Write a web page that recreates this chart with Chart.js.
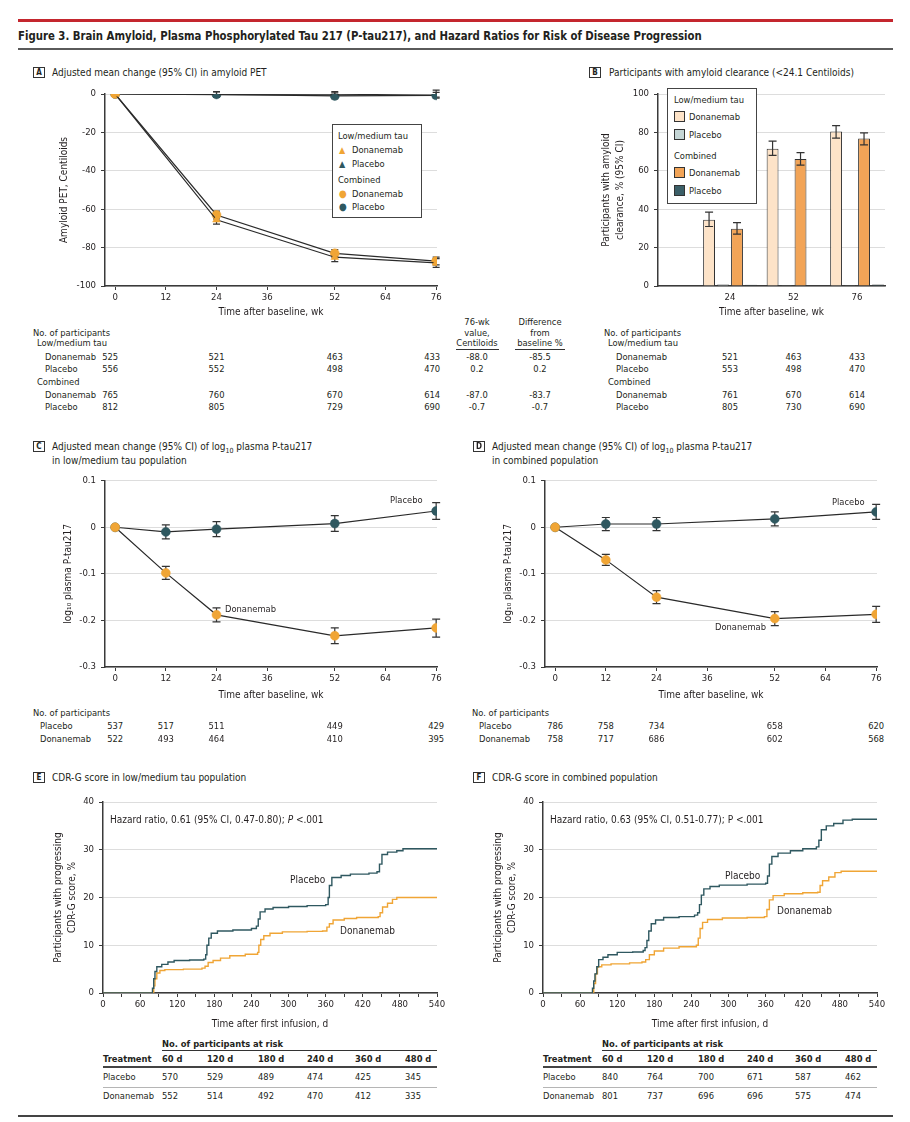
<!DOCTYPE html>
<html><head><meta charset="utf-8">
<script src="https://cdn.jsdelivr.net/npm/chart.js@4.4.1/dist/chart.umd.min.js"></script>
<style>
html,body{margin:0;padding:0;background:#fff}
body{width:910px;height:1122px;position:relative;overflow:hidden;font-family:"Liberation Sans Narrow","DejaVu Sans Condensed","Arial Narrow",sans-serif;color:#231f20}
.t{position:absolute;font-size:9.3px;line-height:12px;white-space:nowrap}
.b{font-weight:bold}
.pt{font-size:10px}
.ln{position:absolute}
canvas{position:absolute}
.lbox{position:absolute;width:12px;height:11px;border:1px solid #333;font-size:8px;line-height:10px;text-align:center;font-weight:bold;box-sizing:border-box}
.leg{position:absolute;border:1.5px solid #444;box-sizing:border-box;background:#fff}
.sw{position:absolute;width:11px;height:11px;border:1px solid #333;box-sizing:border-box}
</style></head><body>
<script>
// ---------------- DATA ----------------
// Panel A: adjusted mean change in amyloid PET (Centiloids)
const weeksA = [0, 24, 52, 76];
const aLowDona = [0, -65.5, -85.0, -88.0];
const aLowDonaLo = [null, -67.8, -87.3, -90.3];
const aLowDonaHi = [null, -63.2, -82.7, -85.7];
const aLowPlac = [0, -0.3, -0.5, 0.2];
const aLowPlacLo = [null, -1.8, -2.2, -1.6];
const aLowPlacHi = [null, 1.2, 1.2, 2.0];
const aCombDona = [0, -63.0, -83.0, -87.0];
const aCombDonaLo = [null, -65.0, -85.0, -89.0];
const aCombDonaHi = [null, -61.0, -81.0, -85.0];
const aCombPlac = [0, -0.2, -1.0, -0.7];
const aCombPlacLo = [null, -1.5, -2.6, -2.2];
const aCombPlacHi = [null, 1.1, 0.6, 0.8];
const nA_lowDona = [525, 521, 463, 433];
const nA_lowPlac = [556, 552, 498, 470];
const nA_combDona = [765, 760, 670, 614];
const nA_combPlac = [812, 805, 729, 690];
const a76Value = ['-88.0', '0.2', '-87.0', '-0.7'];
const a76Diff = ['-85.5', '0.2', '-83.7', '-0.7'];

// Panel B: participants with amyloid clearance (%)
const bLabels = ['24', '52', '76'];
const bLowDona = [34.5, 71.5, 80.5];
const bLowDonaLo = [31.0, 68.0, 77.0];
const bLowDonaHi = [38.5, 75.5, 83.5];
const bLowPlac = [0.8, 0.4, 0.4];
const bCombDona = [29.8, 66.2, 76.8];
const bCombDonaLo = [27.0, 63.0, 73.5];
const bCombDonaHi = [33.0, 69.5, 79.8];
const bCombPlac = [0.6, 0.3, 0.8];
const nB_lowDona = [521, 463, 433];
const nB_lowPlac = [553, 498, 470];
const nB_combDona = [761, 670, 614];
const nB_combPlac = [805, 730, 690];

// Panels C and D: log10 plasma P-tau217 change
const weeksCD = [0, 12, 24, 52, 76];
const cPlac = [0, -0.010, -0.004, 0.008, 0.035];
const cPlacLo = [null, -0.025, -0.020, -0.009, 0.017];
const cPlacHi = [null, 0.005, 0.012, 0.025, 0.053];
const cDona = [0, -0.098, -0.188, -0.233, -0.216];
const cDonaLo = [null, -0.112, -0.203, -0.250, -0.236];
const cDonaHi = [null, -0.084, -0.173, -0.216, -0.197];
const dPlac = [0, 0.007, 0.007, 0.018, 0.033];
const dPlacLo = [null, -0.007, -0.007, 0.003, 0.017];
const dPlacHi = [null, 0.021, 0.021, 0.033, 0.049];
const dDona = [0, -0.070, -0.150, -0.196, -0.187];
const dDonaLo = [null, -0.082, -0.164, -0.211, -0.204];
const dDonaHi = [null, -0.058, -0.136, -0.181, -0.170];
const nC_plac = [537, 517, 511, 449, 429];
const nC_dona = [522, 493, 464, 410, 395];
const nD_plac = [786, 758, 734, 658, 620];
const nD_dona = [758, 717, 686, 602, 568];

// Panels E and F: cumulative % with progressing CDR-G (Kaplan-Meier)
const ePlacDays = [0,78,80,82,84,87,95,105,115,140,163,166,168,171,175,185,210,240,248,251,254,262,275,300,330,360,364,366,370,385,400,430,443,447,451,460,475,485,540];
const ePlacPct  = [0,0,1,3,4.5,5.5,6.0,6.5,6.8,6.9,7.1,8,10,11.5,12.5,13,13.2,13.5,14,15.5,17,17.6,17.9,18.1,18.3,18.5,20,22.5,24.2,24.6,24.9,25.1,25.4,27,29,29.5,29.8,30.2,30.2];
const eDonaDays = [0,80,82,84,87,92,100,130,160,165,170,178,190,205,230,250,252,255,260,270,290,330,355,362,366,372,390,410,445,448,452,460,468,475,540];
const eDonaPct  = [0,0,1.5,3,4.2,4.7,4.9,5,5.2,5.6,6.4,6.8,7.3,7.8,8.1,8.5,10,11.2,12,12.5,12.8,12.9,13,13.8,14.5,15.3,15.6,15.8,16,16.8,18,18.8,19.6,20,20];
const fPlacDays = [0,78,80,82,84,87,90,97,105,120,145,162,165,168,171,175,182,195,220,245,250,253,256,260,270,285,330,360,363,366,370,380,400,420,442,446,450,458,470,485,500,540];
const fPlacPct  = [0,0,1,2.5,4,5.5,7,7.5,8,8.5,8.6,8.9,9.5,11,13,14.5,15.3,15.8,16,16.3,16.8,18.5,20.5,21.8,22.3,22.6,22.8,23,24.5,27,28.6,29.3,29.8,30.2,30.6,32,34.2,35,35.5,36.2,36.4,36.4];
const fDonaDays = [0,80,82,85,88,95,110,140,160,166,172,180,195,220,248,251,254,258,266,290,330,358,362,366,372,390,420,444,448,452,462,472,482,540];
const fDonaPct  = [0,0,2,4,5.5,5.9,6.1,6.3,6.5,7,8,8.8,9.4,9.7,10,11.5,13.5,14.8,15.4,15.7,15.8,16,17.5,19.5,20.4,20.8,21,21.1,22.5,23.5,24.3,25.2,25.5,25.5];
const riskCols = ['60 d', '120 d', '180 d', '240 d', '360 d', '480 d'];
const ePlacN = [570, 529, 489, 474, 425, 345];
const eDonaN = [552, 514, 492, 470, 412, 335];
const fPlacN = [840, 764, 700, 671, 587, 462];
const fDonaN = [801, 737, 696, 696, 575, 474];
const wkTicks = [0, 12, 24, 36, 52, 64, 76];

// ---------------- STYLE ----------------
const FONT = '"Liberation Sans Narrow","DejaVu Sans Condensed","Arial Narrow",sans-serif';
const TXT = '#231f20', AX = '#3a3a3a', GRID = '#dddddd';
const ORANGE = '#F0A535', TEAL = '#2F5860';
Chart.defaults.font.family = FONT;
Chart.defaults.font.size = 9.5;
Chart.defaults.color = TXT;

// ---------------- HELPERS ----------------
function T(x, y, html, cls, align) {
  const d = document.createElement('div');
  d.className = 't' + (cls ? ' ' + cls : '');
  d.innerHTML = html;
  d.style.left = x + 'px';
  d.style.top = (y - 6) + 'px';
  if (align === 'c') d.style.transform = 'translateX(-50%)';
  if (align === 'r') d.style.transform = 'translateX(-100%)';
  document.body.appendChild(d);
  return d;
}
function L(x, y, w, h, c) {
  const d = document.createElement('div');
  d.className = 'ln';
  Object.assign(d.style, {left: x + 'px', top: y + 'px', width: w + 'px', height: h + 'px', background: c});
  document.body.appendChild(d);
}
function box(x, y, letter) {
  const d = document.createElement('div');
  d.className = 'lbox';
  d.style.left = x + 'px'; d.style.top = y + 'px';
  d.textContent = letter;
  document.body.appendChild(d);
}
function mk(left, top, w, h) {
  const c = document.createElement('canvas');
  c.width = w; c.height = h;
  c.style.left = left + 'px'; c.style.top = top + 'px';
  c.style.width = w + 'px'; c.style.height = h + 'px';
  document.body.appendChild(c);
  return c;
}
function drawErr(chart, opts) {
  const ctx = chart.ctx, ys = chart.scales.y;
  chart.data.datasets.forEach((ds, i) => {
    if (!ds.errLow) return;
    const meta = chart.getDatasetMeta(i);
    meta.data.forEach((el, j) => {
      const lo = ds.errLow[j], hi = ds.errHigh[j];
      if (lo == null || hi == null) return;
      const x = el.x, y1 = ys.getPixelForValue(lo), y2 = ys.getPixelForValue(hi);
      ctx.save();
      ctx.strokeStyle = opts.color; ctx.lineWidth = opts.width;
      ctx.beginPath();
      ctx.moveTo(x, y1); ctx.lineTo(x, y2);
      ctx.moveTo(x - opts.cap, y1); ctx.lineTo(x + opts.cap, y1);
      ctx.moveTo(x - opts.cap, y2); ctx.lineTo(x + opts.cap, y2);
      ctx.stroke();
      ctx.restore();
    });
  });
}
Chart.register({
  id: 'errorBars',
  defaults: {cap: 4, color: '#333', width: 1.2, phase: 'after'},
  beforeDatasetsDraw(chart, args, opts) { if (opts.phase === 'before') drawErr(chart, opts); },
  afterDatasetsDraw(chart, args, opts) { if (opts.phase !== 'before') drawErr(chart, opts); }
});

function pts(xs, ys) { return xs.map((x, i) => ({x: x, y: ys[i]})); }
function lineDs(label, xs, ys, lo, hi, color, style) {
  return {label, data: pts(xs, ys), errLow: lo, errHigh: hi, borderColor: '#2a2a2a', borderWidth: 1.2,
    pointStyle: style, pointRadius: 4.5, pointBackgroundColor: color, pointBorderColor: color, pointBorderWidth: 0.5, tension: 0};
}
function lineOpts(o) {
  return {
    responsive: false, animation: false, events: [],
    layout: {padding: o.pad},
    plugins: {legend: {display: false}, tooltip: {enabled: false},
      errorBars: {cap: o.cap || 4, phase: 'before', color: '#333', width: 1.2}},
    scales: {
      x: {type: 'linear', min: o.xmin, max: o.xmax,
        afterBuildTicks: s => { if (o.xticks) s.ticks = o.xticks.map(v => ({value: v})); },
        afterFit: s => { s.height = o.xh; },
        ticks: {autoSkip: false, maxRotation: 0, padding: 2, stepSize: o.xstep, callback: o.xcb || (v => v)},
        grid: {drawOnChartArea: false, tickLength: 4, tickColor: AX, lineWidth: 1},
        border: {color: AX, width: 1.5},
        title: {display: true, text: o.xtitle, color: TXT, font: {size: 10}, padding: {top: 0, bottom: 2}}
      },
      y: {min: o.ymin, max: o.ymax,
        afterFit: s => { s.width = o.yw; },
        ticks: {stepSize: o.ystep, padding: 5},
        grid: {color: GRID, tickLength: 4, tickColor: AX, lineWidth: 1},
        border: {color: AX, width: 1.5},
        title: {display: true, text: o.ytitle, color: TXT, font: {size: 10, lineHeight: 1.4}, padding: {top: o.ytpad, bottom: 0}}
      }
    }
  };
}

// ---------------- HEADER ----------------
L(18, 19, 875, 3, '#c4262e');
const ttl = T(18, 36, 'Figure 3. Brain Amyloid, Plasma Phosphorylated Tau 217 (P-tau217), and Hazard Ratios for Risk of Disease Progression', 'b', null);
ttl.style.fontSize = '12px'; ttl.style.transformOrigin = '0 50%'; ttl.style.transform = 'scaleX(0.94)';
L(18, 48, 875, 2, '#5a5a5a');

// ---------------- PANEL A ----------------
box(33, 67, 'A');
T(52, 73, 'Adjusted mean change (95% CI) in amyloid PET', 'pt');
const chA = new Chart(mk(50, 80, 400, 240), {
  type: 'line',
  data: {datasets: [
    lineDs('Low/medium tau Donanemab', weeksA, aLowDona, aLowDonaLo, aLowDonaHi, ORANGE, 'triangle'),
    lineDs('Combined Donanemab', weeksA, aCombDona, aCombDonaLo, aCombDonaHi, ORANGE, 'circle'),
    lineDs('Low/medium tau Placebo', weeksA, aLowPlac, aLowPlacLo, aLowPlacHi, TEAL, 'triangle'),
    lineDs('Combined Placebo', weeksA, aCombPlac, aCombPlacLo, aCombPlacHi, TEAL, 'circle')
  ]},
  options: lineOpts({xmin: -2.4, xmax: 76.2, ymin: -100, ymax: 0, ystep: 20, yw: 55, xh: 34,
    pad: {top: 14, right: 13, bottom: 0, left: 0}, ytitle: 'Amyloid PET, Centiloids', ytpad: 7,
    xticks: wkTicks, xtitle: 'Time after baseline, wk', cap: 3.5})
});
// legend A
(function(){
  const lg = document.createElement('div'); lg.className = 'leg';
  Object.assign(lg.style, {left: '332px', top: '124px', width: '90px', height: '94px'});
  document.body.appendChild(lg);
  T(338, 136, 'Low/medium tau');
  T(339, 150, '<span style="color:' + ORANGE + ';font-size:9px">▲</span>');
  T(352, 150, 'Donanemab');
  T(339, 164, '<span style="color:' + TEAL + ';font-size:9px">▲</span>');
  T(352, 164, 'Placebo');
  T(338, 180, 'Combined');
  T(339, 194, '<span style="color:' + ORANGE + ';font-size:10px">●</span>');
  T(352, 194, 'Donanemab');
  T(339, 207, '<span style="color:' + TEAL + ';font-size:10px">●</span>');
  T(352, 207, 'Placebo');
})();
// table A
(function(){
  const px = w => 50 + chA.scales.x.getPixelForValue(w);
  T(33, 333, 'No. of participants');
  T(37, 343, 'Low/medium tau');
  T(37, 382, 'Combined');
  const rows = [['Donanemab', 357, nA_lowDona, 0], ['Placebo', 369, nA_lowPlac, 1], ['Donanemab', 395, nA_combDona, 2], ['Placebo', 407, nA_combPlac, 3]];
  rows.forEach(r => {
    T(45, r[1], r[0]);
    r[2].forEach((n, i) => T(px(weeksA[i]) - (i === 3 ? 4 : (i === 0 ? 5 : 0)), r[1], String(n), null, 'c'));
    T(477, r[1], a76Value[r[3]], null, 'c');
    T(540, r[1], a76Diff[r[3]], null, 'c');
  });
  T(477, 322, '76-wk', null, 'c'); T(477, 333, 'value,', null, 'c'); T(477, 343, 'Centiloids', null, 'c');
  T(540, 322, 'Difference', null, 'c'); T(540, 333, 'from', null, 'c'); T(540, 343, 'baseline %', null, 'c');
  L(456, 349, 43, 1, '#333'); L(515, 349, 50, 1, '#333');
})();

// ---------------- PANEL B ----------------
box(589, 67, 'B');
T(609, 73, 'Participants with amyloid clearance (&lt;24.1 Centiloids)', 'pt');
function barDs(label, vals, color, lo, hi) {
  return {label, data: vals.map((v, i) => ({x: i + 1, y: v})), backgroundColor: color, borderColor: '#333', borderWidth: 1,
    errLow: lo, errHigh: hi, categoryPercentage: 0.88, barPercentage: 0.85};
}
const chB = new Chart(mk(590, 80, 310, 240), {
  type: 'bar',
  data: {datasets: [
    barDs('Low/medium tau Donanemab', bLowDona, '#FDE3C8', bLowDonaLo, bLowDonaHi),
    barDs('Low/medium tau Placebo', bLowPlac, '#C5D6D6'),
    barDs('Combined Donanemab', bCombDona, '#F2A457', bCombDonaLo, bCombDonaHi),
    barDs('Combined Placebo', bCombPlac, '#3B5F68')
  ]},
  options: {
    responsive: false, animation: false, events: [],
    layout: {padding: {top: 14, right: 15, bottom: 0, left: 0}},
    plugins: {legend: {display: false}, tooltip: {enabled: false}, errorBars: {cap: 4, phase: 'after', color: '#333', width: 1.2}},
    scales: {
      x: {type: 'linear', min: -0.134, max: 3.44, offset: false,
        afterBuildTicks: s => { s.ticks = bLabels.map((l, i) => ({value: i + 1})); },
        afterFit: s => { s.height = 34; },
        ticks: {autoSkip: false, maxRotation: 0, padding: 2, callback: v => bLabels[v - 1]},
        grid: {drawOnChartArea: false, offset: false, tickLength: 4, tickColor: 'rgba(0,0,0,0)'},
        border: {color: AX, width: 1.5},
        title: {display: true, text: 'Time after baseline, wk', color: TXT, font: {size: 10}, padding: {top: 0, bottom: 2}}
      },
      y: {min: 0, max: 100,
        afterFit: s => { s.width = 68; },
        ticks: {stepSize: 20, padding: 5},
        grid: {color: GRID, tickLength: 4, tickColor: AX},
        border: {color: AX, width: 1.5},
        title: {display: true, text: ['Participants with amyloid', 'clearance, % (95% CI)'], color: TXT, font: {size: 10, lineHeight: 1.4}, padding: {top: 9, bottom: 0}}
      }
    }
  }
});
// legend B
(function(){
  const lg = document.createElement('div'); lg.className = 'leg';
  Object.assign(lg.style, {left: '667px', top: '88px', width: '90px', height: '116px'});
  document.body.appendChild(lg);
  T(674, 100, 'Low/medium tau');
  const items = [['Donanemab', 117, '#FDE3C8'], ['Placebo', 135, '#C5D6D6'], ['Donanemab', 173, '#F2A457'], ['Placebo', 191, '#3B5F68']];
  items.forEach(it => {
    const s = document.createElement('div'); s.className = 'sw';
    Object.assign(s.style, {left: '674px', top: (it[1] - 6) + 'px', background: it[2]});
    document.body.appendChild(s);
    T(689, it[1], it[0]);
  });
  T(674, 156, 'Combined');
})();
// table B
(function(){
  const px = i => 590 + chB.scales.x.getPixelForValue(i + 1);
  T(604, 333, 'No. of participants');
  T(608, 343, 'Low/medium tau');
  T(608, 382, 'Combined');
  [['Donanemab', 357, nB_lowDona], ['Placebo', 369, nB_lowPlac], ['Donanemab', 395, nB_combDona], ['Placebo', 407, nB_combPlac]].forEach(r => {
    T(616, r[1], r[0]);
    r[2].forEach((n, i) => T(px(i), r[1], String(n), null, 'c'));
  });
})();

// ---------------- PANEL C ----------------
box(33, 441, 'C');
T(52, 447, 'Adjusted mean change (95% CI) of log<sub style="font-size:7px;line-height:0">10</sub> plasma P-tau217', 'pt');
T(52, 461, 'in low/medium tau population', 'pt');
const cdOpts = (ytpad) => lineOpts({xmin: -2.4, xmax: 76.2, ymin: -0.3, ymax: 0.1, ystep: 0.1, yw: 55, xh: 36,
  pad: {top: 7, right: 13, bottom: 0, left: 0}, ytitle: 'log\u2081\u2080 plasma P-tau217', ytpad: ytpad,
  xticks: wkTicks, xtitle: 'Time after baseline, wk', cap: 4});
const chC = new Chart(mk(50, 470, 400, 233), {
  type: 'line',
  data: {datasets: [
    lineDs('Donanemab', weeksCD, cDona, cDonaLo, cDonaHi, ORANGE, 'circle'),
    lineDs('Placebo', weeksCD, cPlac, cPlacLo, cPlacHi, TEAL, 'circle')
  ]},
  options: cdOpts(11)
});
T(390, 500, 'Placebo');
T(225, 609, 'Donanemab');

// ---------------- PANEL D ----------------
box(473, 441, 'D');
T(492, 447, 'Adjusted mean change (95% CI) of log<sub style="font-size:7px;line-height:0">10</sub> plasma P-tau217', 'pt');
T(492, 461, 'in combined population', 'pt');
const chD = new Chart(mk(490, 470, 400, 233), {
  type: 'line',
  data: {datasets: [
    lineDs('Donanemab', weeksCD, dDona, dDonaLo, dDonaHi, ORANGE, 'circle'),
    lineDs('Placebo', weeksCD, dPlac, dPlacLo, dPlacHi, TEAL, 'circle')
  ]},
  options: cdOpts(11)
});
T(832, 502, 'Placebo');
T(715, 627, 'Donanemab');

// tables C, D
(function(){
  const pc = w => 50 + chC.scales.x.getPixelForValue(w);
  const pd = w => 490 + chD.scales.x.getPixelForValue(w);
  T(33, 713, 'No. of participants');
  T(40, 726, 'Placebo'); T(40, 739, 'Donanemab');
  nC_plac.forEach((n, i) => T(pc(weeksCD[i]), 726, String(n), null, 'c'));
  nC_dona.forEach((n, i) => T(pc(weeksCD[i]), 739, String(n), null, 'c'));
  T(472, 713, 'No. of participants');
  T(479, 726, 'Placebo'); T(479, 739, 'Donanemab');
  nD_plac.forEach((n, i) => T(pd(weeksCD[i]), 726, String(n), null, 'c'));
  nD_dona.forEach((n, i) => T(pd(weeksCD[i]), 739, String(n), null, 'c'));
})();

// ---------------- PANELS E, F ----------------
function kmDs(label, xs, ys, color) {
  return {label, data: pts(xs, ys), borderColor: color, borderWidth: 1.4, pointRadius: 0, stepped: true, tension: 0};
}
const efOpts = () => lineOpts({xmin: 0, xmax: 540, xstep: 30, ymin: 0, ymax: 40, ystep: 10, yw: 63, xh: 39,
  pad: {top: 12, right: 13, bottom: 0, left: 0}, ytitle: ['Participants with progressing', 'CDR-G score, %'], ytpad: 11,
  xcb: v => (v % 60 === 0 ? v : ''), xtitle: 'Time after first infusion, d'});
box(33, 772, 'E');
T(52, 778, 'CDR-G score in low/medium tau population', 'pt');
new Chart(mk(40, 790, 410, 242), {
  type: 'line',
  data: {datasets: [kmDs('Placebo', ePlacDays, ePlacPct, TEAL), kmDs('Donanemab', eDonaDays, eDonaPct, ORANGE)]},
  options: efOpts()
});
T(110, 820, 'Hazard ratio, 0.61 (95% CI, 0.47-0.80); <i>P</i> &lt;.001', 'pt');
T(290, 880, 'Placebo', 'pt');
T(340, 931, 'Donanemab', 'pt');

box(473, 772, 'F');
T(492, 778, 'CDR-G score in combined population', 'pt');
new Chart(mk(480, 790, 410, 242), {
  type: 'line',
  data: {datasets: [kmDs('Placebo', fPlacDays, fPlacPct, TEAL), kmDs('Donanemab', fDonaDays, fDonaPct, ORANGE)]},
  options: efOpts()
});
T(550, 820, 'Hazard ratio, 0.63 (95% CI, 0.51-0.77); P &lt;.001', 'pt');
T(725, 876, 'Placebo', 'pt');
T(777, 911, 'Donanemab', 'pt');

// risk tables
function riskTable(x0, colX, plac, dona) {
  T(colX[0], 1044, 'No. of participants at risk', 'b');
  L(colX[0], 1050, x0 + 334 - colX[0], 1, '#333');
  T(x0, 1059, 'Treatment', 'b');
  riskCols.forEach((c, i) => T(colX[i], 1059, c, 'b'));
  L(x0, 1066, 334, 2, '#444');
  T(x0, 1077, 'Placebo');
  plac.forEach((n, i) => T(colX[i], 1077, String(n)));
  L(x0, 1087, 334, 1, '#b5b5b5');
  T(x0, 1096, 'Donanemab');
  dona.forEach((n, i) => T(colX[i], 1096, String(n)));
}
riskTable(103, [162, 207, 258, 307, 355, 405], ePlacN, eDonaN);
riskTable(543, [602, 647, 698, 747, 795, 845], fPlacN, fDonaN);

L(18, 1115, 875, 2, '#444');
</script>
</body></html>
